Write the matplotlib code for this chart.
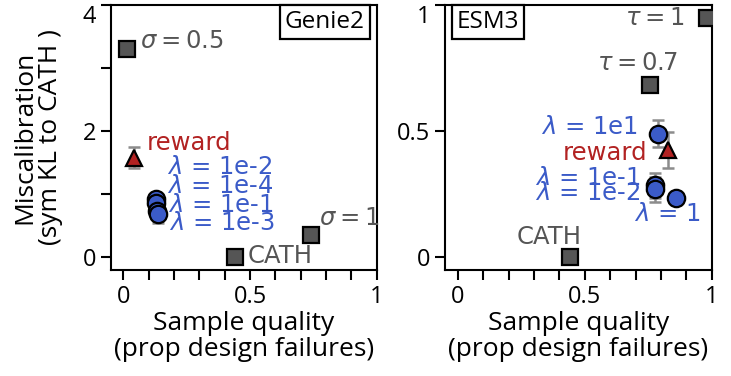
import numpy as np
import matplotlib.pyplot as plt

plt.rcParams['font.family'] = ['Open Sans', 'DejaVu Sans']
plt.rcParams['mathtext.fontset'] = 'dejavusans'

GRAY = '#555555'
BLUE = '#3b5bc8'
RED = '#b22222'
ERR = '#8c8c8c'

# Genie2 panel
g_base_lab = ['$\\sigma = 0.5$', '$\\sigma = 1$', 'CATH']
g_base_x = [0.016, 0.74, 0.44]
g_base_y = [3.30, 0.36, 0.0]
g_rew_x, g_rew_y, g_rew_err = 0.042, 1.58, 0.17
g_lam_lab = ['1e-2', '1e-4', '1e-1', '1e-3']
g_lam_x = [0.130, 0.128, 0.132, 0.135]
g_lam_y = [0.92, 0.86, 0.74, 0.69]
g_lam_err = [0.08, 0.08, 0.10, 0.15]

# ESM3 panel
e_base_lab = ['$\\tau = 1$', '$\\tau = 0.7$', 'CATH']
e_base_x = [0.98, 0.755, 0.44]
e_base_y = [0.95, 0.683, 0.0]
e_rew_x, e_rew_y, e_rew_err = 0.828, 0.425, 0.07
e_lam_lab = ['1e1', '1e-1', '1e-2', '1']
e_lam_x = [0.79, 0.778, 0.776, 0.857]
e_lam_y = [0.49, 0.286, 0.27, 0.235]
e_lam_err = [0.053, 0.05, 0.05, 0.0]

fig = plt.figure(figsize=(7.31, 3.76), dpi=100)
ax1 = fig.add_axes([0.1515, 0.282, 0.364, 0.705])
ax2 = fig.add_axes([0.6088, 0.282, 0.365, 0.705])

mk = dict(markeredgecolor='black', markeredgewidth=1.6, zorder=3)
eb = dict(ecolor=ERR, elinewidth=1.8, capsize=4, capthick=1.8, linestyle='none')


def draw(ax, bx, by, rx, ry, rerr, lx, ly, lerr):
    ax.plot(bx, by, 's', color=GRAY, markersize=12, clip_on=True, **mk)
    ax.errorbar(rx, ry, yerr=rerr, zorder=2, **eb)
    ax.plot(rx, ry, '^', color=RED, markersize=12, **mk)
    ax.errorbar(lx, ly, yerr=lerr, zorder=2, **eb)
    ax.plot(lx, ly, 'o', color=BLUE, markersize=12.5, **mk)


draw(ax1, g_base_x, g_base_y, g_rew_x, g_rew_y, g_rew_err, g_lam_x, g_lam_y, g_lam_err)
draw(ax2, e_base_x, e_base_y, e_rew_x, e_rew_y, e_rew_err, e_lam_x, e_lam_y, e_lam_err)

fs = 17.5
# label offsets (pixels)
g_base_off = [(13, 8, 'left'), (8, 17, 'left'), (13, 1, 'left')]
g_lam_off = [(11, 32, 'left'), (11, 17, 'left'), (11, 6, 'left'), (11, -9, 'left')]
for t, x, y, o in zip(g_base_lab, g_base_x, g_base_y, g_base_off):
    ax1.annotate(t, (x, y), xytext=o[:2], textcoords='offset pixels', ha=o[2],
                 va='center', color=GRAY, fontsize=fs, family='DejaVu Sans')
ax1.annotate('reward', (g_rew_x, g_rew_y), xytext=(13, 15), textcoords='offset pixels',
             ha='left', va='center', color=RED, fontsize=fs, family='DejaVu Sans')
for t, x, y, o in zip(g_lam_lab, g_lam_x, g_lam_y, g_lam_off):
    ax1.annotate('$\\lambda$ = ' + t, (x, y), xytext=o[:2], textcoords='offset pixels',
                 ha=o[2], va='center', color=BLUE, fontsize=fs, family='DejaVu Sans')

e_base_off = [(-22, 0, 'right'), (-12, 22, 'center'), (-20, 20, 'center')]
e_lam_off = [(-21, 7, 'right'), (-15, 7, 'right'), (-15, -4, 'right'), (-8, -16, 'center')]
for t, x, y, o in zip(e_base_lab, e_base_x, e_base_y, e_base_off):
    ax2.annotate(t, (x, y), xytext=o[:2], textcoords='offset pixels', ha=o[2],
                 va='center', color=GRAY, fontsize=fs, family='DejaVu Sans')
ax2.annotate('reward', (e_rew_x, e_rew_y), xytext=(-21, -3), textcoords='offset pixels',
             ha='right', va='center', color=RED, fontsize=fs, family='DejaVu Sans')
for t, x, y, o in zip(e_lam_lab, e_lam_x, e_lam_y, e_lam_off):
    ax2.annotate('$\\lambda$ = ' + t, (x, y), xytext=o[:2], textcoords='offset pixels',
                 ha=o[2], va='center', color=BLUE, fontsize=fs, family='DejaVu Sans')

ax1.text(0.955, 0.935, 'Genie2', transform=ax1.transAxes, ha='right', va='center',
         fontsize=17.5, bbox=dict(facecolor='white', edgecolor='black', linewidth=1.6, pad=3.5))
ax2.text(0.045, 0.935, 'ESM3', transform=ax2.transAxes, ha='left', va='center',
         fontsize=17.5, bbox=dict(facecolor='white', edgecolor='black', linewidth=1.6, pad=3.5))

xt = np.round(np.arange(0, 1.01, 0.1), 1)
xl = ['0' if v == 0 else '0.5' if v == 0.5 else '1' if v == 1 else '' for v in xt]
for ax in (ax1, ax2):
    ax.set_xlim(-0.05, 1.0)
    ax.set_xticks(xt)
    ax.set_xticklabels(xl)
    ax.set_xlabel('Sample quality\n(prop design failures)', fontsize=19, linespacing=1.05,
                  labelpad=2)
    ax.tick_params(labelsize=17, length=7, width=1.5)
    for s in ax.spines.values():
        s.set_linewidth(1.5)

ax1.set_ylim(-0.2, 4)
ax1.set_yticks([0, 1, 2, 3, 4])
ax1.set_yticklabels(['0', '', '2', '', '4'])
ax1.set_ylabel('Miscalibration\n(sym KL to CATH )', fontsize=19, linespacing=1.05,
               labelpad=14)

ax2.set_ylim(-0.05, 1)
ax2.set_yticks([0, 0.5, 1])
ax2.set_yticklabels(['0', '0.5', '1'])

# top tick labels hang below the top spine
for ax in (ax1, ax2):
    ax.get_yticklabels()[-1].set_verticalalignment('top')

fig.savefig('out.png', dpi=100)
